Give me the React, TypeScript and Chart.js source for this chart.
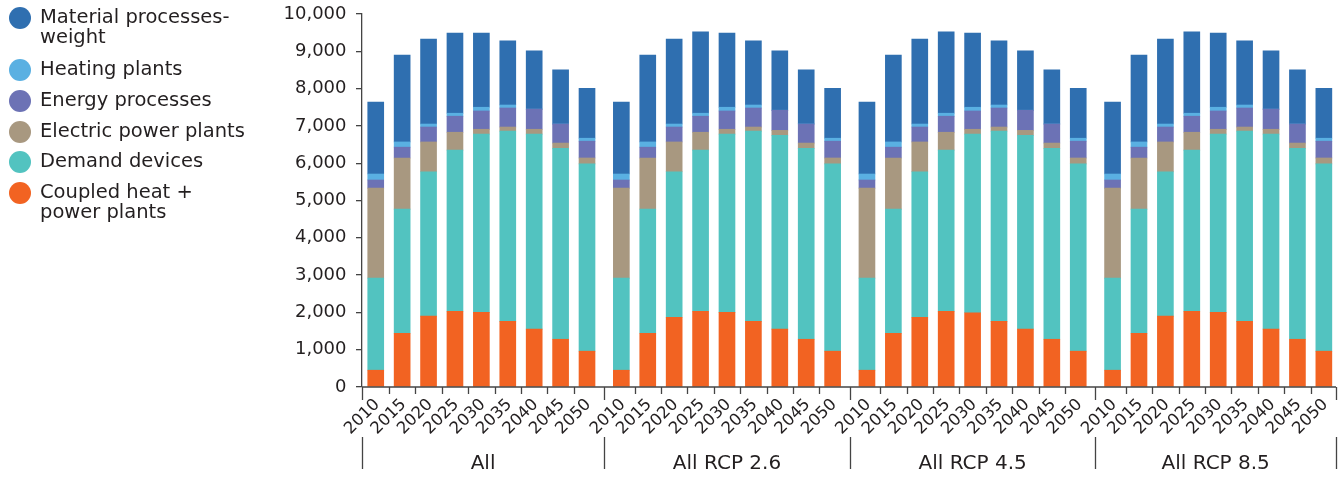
import React, { useEffect, useRef } from "react";
import { Chart, registerables } from "chart.js";

Chart.register(...registerables);

// ---------- data ----------
const groups = ["All", "All RCP 2.6", "All RCP 4.5", "All RCP 8.5"];
const years = ["2010", "2015", "2020", "2025", "2030", "2035", "2040", "2045", "2050"];

// values per bar, 9 years x 4 groups (All, RCP 2.6, RCP 4.5, RCP 8.5)
const coupledHeatPower = [
  450, 1440, 1900, 2030, 2000, 1760, 1550, 1280, 960,
  450, 1440, 1870, 2030, 2000, 1760, 1550, 1280, 960,
  450, 1440, 1870, 2030, 1990, 1760, 1550, 1280, 960,
  450, 1440, 1900, 2030, 2000, 1760, 1550, 1280, 960,
];
const demandDevices = [
  2470, 3330, 3870, 4320, 4780, 5100, 5230, 5120, 5020,
  2470, 3330, 3900, 4320, 4780, 5100, 5200, 5120, 5020,
  2470, 3330, 3900, 4320, 4790, 5100, 5200, 5120, 5020,
  2470, 3330, 3870, 4320, 4780, 5100, 5230, 5120, 5020,
];
const electricPowerPlants = [
  2410, 1370, 800, 480, 130, 110, 130, 140, 160,
  2410, 1370, 800, 480, 130, 110, 130, 140, 160,
  2410, 1370, 800, 480, 130, 110, 130, 140, 160,
  2410, 1370, 800, 480, 130, 110, 130, 140, 160,
];
const energyProcesses = [
  220, 290, 400, 430, 490, 510, 540, 510, 450,
  220, 290, 400, 430, 490, 510, 540, 510, 450,
  220, 290, 400, 430, 490, 510, 540, 510, 450,
  220, 290, 400, 430, 490, 510, 540, 510, 450,
];
const heatingPlants = [
  160, 140, 80, 80, 100, 80, 0, 0, 80,
  160, 140, 80, 80, 100, 80, 0, 0, 80,
  160, 140, 80, 80, 100, 80, 0, 0, 80,
  160, 140, 80, 80, 100, 80, 0, 0, 80,
];
const materialProcesses = [
  1930, 2330, 2280, 2150, 1990, 1720, 1560, 1450, 1340,
  1930, 2330, 2280, 2180, 1990, 1720, 1590, 1450, 1340,
  1930, 2330, 2280, 2180, 1990, 1720, 1590, 1450, 1340,
  1930, 2330, 2280, 2180, 1990, 1720, 1560, 1450, 1340,
];

const seriesLabels = [
  "Coupled heat + power plants",
  "Demand devices",
  "Electric power plants",
  "Energy processes",
  "Heating plants",
  "Material processes-weight",
];
const seriesColors = ["#f26322", "#52c3c0", "#a89880", "#6c72b5", "#5ab0e2", "#2f6fb0"];
const seriesValues = [
  coupledHeatPower,
  demandDevices,
  electricPowerPlants,
  energyProcesses,
  heatingPlants,
  materialProcesses,
];

// legend entries (top to bottom) with line breaks as in the reference
const legendItems = [
  { lines: ["Material processes-", "weight"], color: "#2f6fb0", top: 7 },
  { lines: ["Heating plants"], color: "#5ab0e2", top: 59 },
  { lines: ["Energy processes"], color: "#6c72b5", top: 90 },
  { lines: ["Electric power plants"], color: "#a89880", top: 121 },
  { lines: ["Demand devices"], color: "#52c3c0", top: 151 },
  { lines: ["Coupled heat +", "power plants"], color: "#f26322", top: 182 },
];

const TEXT = "#231f20";
const AXIS = "#444444";
const FONT = '"DejaVu Sans", sans-serif';
const GROUP_GAP = 0.3;

const xPos = (g: number, k: number) => g * (years.length + GROUP_GAP) + k;

const decorPlugin = {
  id: "groupAxis",
  afterDatasetsDraw(chart: any) {
    const { ctx, chartArea, scales } = chart;
    const x = scales.x;
    const y = scales.y;
    const y0 = y.getPixelForValue(0);
    ctx.save();
    ctx.strokeStyle = AXIS;
    ctx.lineWidth = 1.3;
    // base line
    ctx.beginPath();
    ctx.moveTo(chartArea.left, y0);
    ctx.lineTo(chartArea.right, y0);
    ctx.stroke();
    // small ticks between bars
    ctx.beginPath();
    for (let g = 0; g < groups.length; g++) {
      for (let k = 0; k < years.length - 1; k++) {
        const px = Math.round(x.getPixelForValue(xPos(g, k) + 0.5)) + 0.5;
        ctx.moveTo(px, y0);
        ctx.lineTo(px, y0 + 7);
      }
    }
    ctx.stroke();
    // group separators
    const seps: number[] = [chartArea.left];
    for (let g = 1; g < groups.length; g++) {
      seps.push(x.getPixelForValue((xPos(g - 1, years.length - 1) + xPos(g, 0)) / 2));
    }
    seps.push(chartArea.right);
    ctx.beginPath();
    seps.forEach((s) => {
      const px = Math.round(s) + 0.5;
      ctx.moveTo(px, y0);
      ctx.lineTo(px, y0 + 13);
      ctx.moveTo(px, y0 + 50);
      ctx.lineTo(px, y0 + 82);
    });
    ctx.stroke();
    // year labels
    ctx.fillStyle = TEXT;
    ctx.font = "16.5px " + FONT;
    ctx.textAlign = "right";
    ctx.textBaseline = "middle";
    for (let g = 0; g < groups.length; g++) {
      for (let k = 0; k < years.length; k++) {
        const px = x.getPixelForValue(xPos(g, k));
        ctx.save();
        ctx.translate(px + 1.5, y0 + 15);
        ctx.rotate(-Math.PI / 4);
        ctx.fillText(years[k], 0, 0);
        ctx.restore();
      }
    }
    // group labels
    ctx.font = "20px " + FONT;
    ctx.textAlign = "center";
    ctx.textBaseline = "alphabetic";
    for (let g = 0; g < groups.length; g++) {
      ctx.fillText(groups[g], (seps[g] + seps[g + 1]) / 2, y0 + 81.5);
    }
    ctx.restore();
  },
};

export default function App() {
  const canvasRef = useRef<HTMLCanvasElement | null>(null);

  useEffect(() => {
    if (!canvasRef.current) return;
    const datasets = seriesValues.map((vals, i) => ({
      label: seriesLabels[i],
      backgroundColor: seriesColors[i],
      borderWidth: 0,
      barThickness: 16,
      data: vals.map((v, idx) => ({
        x: xPos(Math.floor(idx / years.length), idx % years.length),
        y: v,
      })),
    }));
    const chart = new Chart(canvasRef.current, {
      type: "bar",
      data: { datasets },
      options: {
        animation: false,
        responsive: false,
        devicePixelRatio: 1,
        layout: { padding: { left: 0, right: 4, top: 14, bottom: 91 } },
        plugins: { legend: { display: false }, tooltip: { enabled: false } },
        scales: {
          x: {
            type: "linear",
            stacked: true,
            display: false,
            offset: false,
            bounds: "ticks",
            min: -0.52,
            max: 36.36,
          },
          y: {
            stacked: true,
            min: 0,
            max: 10000,
            afterFit: (scale: any) => {
              scale.width = 362;
            },
            border: { display: true, color: AXIS, width: 1.3 },
            grid: {
              display: true,
              drawOnChartArea: false,
              drawTicks: true,
              tickLength: 6,
              color: AXIS,
              lineWidth: 1.3,
            },
            ticks: {
              stepSize: 1000,
              padding: 9.5,
              color: TEXT,
              font: { family: FONT, size: 18, lineHeight: 0.5 },
              callback: (v: any) => Number(v).toLocaleString("en-US"),
            },
          },
        },
      },
      plugins: [decorPlugin],
    } as any);
    return () => chart.destroy();
  }, []);

  return (
    <div style={{ position: "absolute", left: 0, top: 0, width: 1340, height: 478, background: "#fff" }}>
      <canvas ref={canvasRef} width={1340} height={478} style={{ display: "block" }} />
      {legendItems.map((it, i) => (
        <div key={i} style={{ position: "absolute", left: 0, top: it.top, width: 270 }}>
          <span
            style={{
              position: "absolute",
              left: 9,
              top: 0,
              width: 22,
              height: 22,
              borderRadius: "50%",
              background: it.color,
            }}
          />
          <div
            style={{
              position: "absolute",
              left: 40,
              top: 0,
              fontFamily: FONT,
              fontSize: 19.5,
              lineHeight: "20px",
              color: TEXT,
              whiteSpace: "nowrap",
            }}
          >
            {it.lines.map((l, j) => (
              <div key={j}>{l}</div>
            ))}
          </div>
        </div>
      ))}
    </div>
  );
}
